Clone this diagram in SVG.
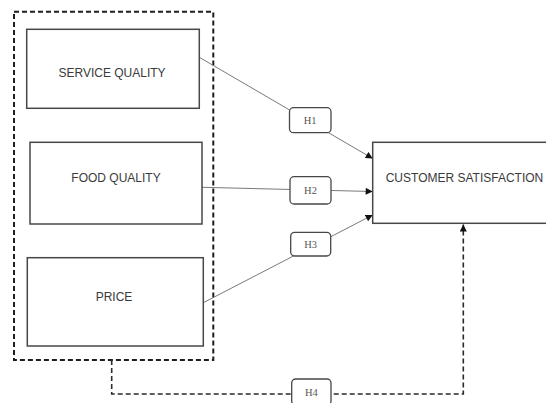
<svg xmlns="http://www.w3.org/2000/svg" width="546" height="403" viewBox="0 0 546 403">
  <style>
    .box { fill: #ffffff; stroke: #474747; stroke-width: 1.5; }
    .tag { fill: #ffffff; stroke: #474747; stroke-width: 1.3; }
    .name { font-family: "Liberation Sans", Arial, sans-serif; font-size: 12px; fill: #3a3a3a; text-anchor: middle; }
    .htext { font-family: "Liberation Serif", "Times New Roman", serif; font-size: 10.5px; fill: #555555; text-anchor: middle; }
    .link { fill: none; stroke: #7a7a7a; stroke-width: 1; }
    .dash { fill: none; stroke: #2a2a2a; stroke-width: 1.6; stroke-dasharray: 5 3; }
    .group { fill: none; stroke: #1e1e1e; stroke-width: 2; stroke-dasharray: 5 3; }
  </style>
  <defs>
    <marker id="arrow" viewBox="0 0 10 10" refX="10" refY="5" markerWidth="8" markerHeight="7" markerUnits="userSpaceOnUse" orient="auto">
      <path d="M0,0 L10,5 L0,10 Z" fill="#111111"/>
    </marker>
  </defs>

  <rect width="546" height="403" fill="#ffffff"/>

  <!-- dashed grouping frame around the three antecedents -->
  <g id="antecedents">
    <rect class="group" x="14" y="11.7" width="199.3" height="348.3"/>
  </g>

  <!-- connectors -->
  <g id="connectors">
    <line class="link" x1="199.3" y1="57.3" x2="372.7" y2="158.5" marker-end="url(#arrow)"/>
    <line class="link" x1="202" y1="187.3" x2="372.7" y2="191.5" marker-end="url(#arrow)"/>
    <line class="link" x1="203.3" y1="302.7" x2="372.7" y2="215" marker-end="url(#arrow)"/>
    <path class="dash" d="M111.7,360 V394 H463.3 V224.5" marker-end="url(#arrow)"/>
  </g>

  <g id="service-quality">
    <rect class="box" x="26.7" y="29.3" width="172.6" height="79"/>
    <text class="name" x="112" y="77">SERVICE QUALITY</text>
  </g>

  <g id="food-quality">
    <rect class="box" x="30" y="142.3" width="172" height="81.7"/>
    <text class="name" x="116" y="182">FOOD QUALITY</text>
  </g>

  <g id="price">
    <rect class="box" x="27.3" y="257.7" width="176" height="88.3"/>
    <text class="name" x="114" y="301">PRICE</text>
  </g>

  <g id="customer-satisfaction">
    <rect class="box" x="372.7" y="142.3" width="190" height="81"/>
    <text class="name" x="464.5" y="182">CUSTOMER SATISFACTION</text>
  </g>

  <g id="h1">
    <rect class="tag" x="289.5" y="107.7" width="41.5" height="25" rx="4"/>
    <text class="htext" x="310.2" y="124">H1</text>
  </g>

  <g id="h2">
    <rect class="tag" x="290" y="176.7" width="41" height="27.3" rx="4"/>
    <text class="htext" x="310.5" y="194">H2</text>
  </g>

  <g id="h3">
    <rect class="tag" x="290.7" y="232.3" width="40" height="23.7" rx="4"/>
    <text class="htext" x="310.7" y="248">H3</text>
  </g>

  <g id="h4">
    <rect class="tag" x="291.7" y="379" width="39.3" height="26" rx="4"/>
    <text class="htext" x="311.3" y="395.5">H4</text>
  </g>
</svg>
